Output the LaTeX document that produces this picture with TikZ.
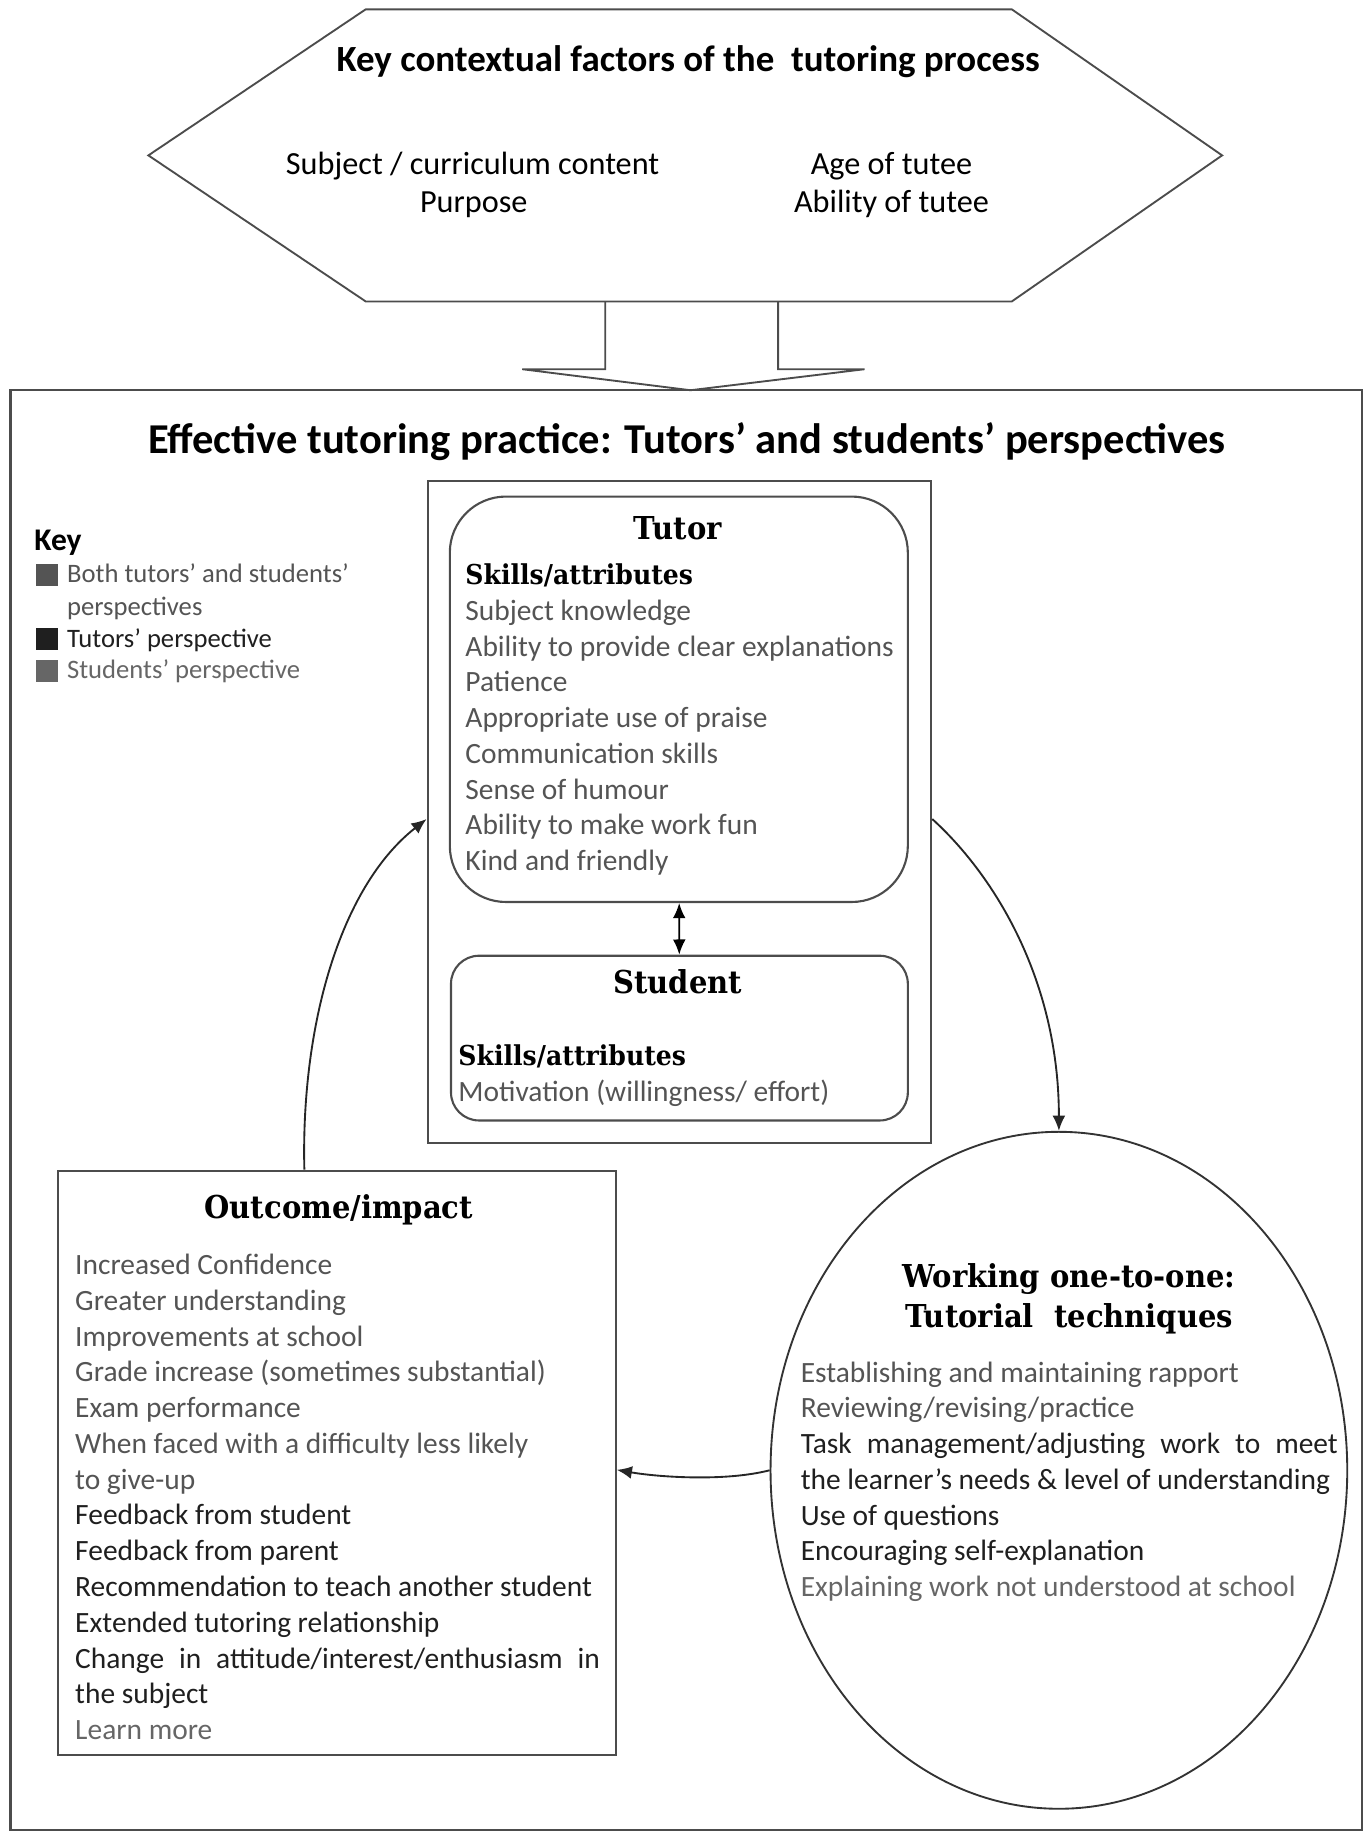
\documentclass[tikz,border=0pt]{standalone}
\usepackage{fontspec}
\newfontfamily\calibri{Carlito}
\newfontfamily\headfont[FakeStretch=0.92]{DejaVu Serif}
\usepackage{xcolor}
\usepackage{tikz}
\usetikzlibrary{arrows.meta,positioning,shapes.geometric}

\definecolor{bothc}{gray}{0.33}
\definecolor{tutc}{gray}{0.12}
\definecolor{studc}{gray}{0.40}
\definecolor{linec}{gray}{0.30}

\newcommand{\bothp}[1]{\textcolor{bothc}{#1}}
\newcommand{\tutp}[1]{\textcolor{tutc}{#1}}
\newcommand{\studp}[1]{\textcolor{studc}{#1}}

\begin{document}
\begin{tikzpicture}[x=0.5pt, y=-0.5pt, >={Latex[length=6.5pt,width=5.5pt]},
    panel/.style={draw=linec, line width=0.9pt, inner sep=0pt},
    ctx/.style={font=\calibri\fontsize{13.8}{16.5}\selectfont, anchor=base},
    head/.style={font=\headfont\bfseries\fontsize{13.5}{17.5}\selectfont, anchor=base},
    skills/.style={font=\headfont\bfseries\fontsize{11.7}{14}\selectfont, anchor=base west, inner sep=0pt},
    items/.style={font=\calibri\fontsize{12.6}{15.3}\selectfont, anchor=north west, inner sep=0pt, align=left},
    keytxt/.style={font=\calibri\fontsize{11.4}{13.8}\selectfont, anchor=base west, inner sep=0pt},
    keysq/.style={minimum size=9.5pt, inner sep=0pt},
    flow/.style={->, line width=0.8pt, draw=black!85}]
  \useasboundingbox (0,0) rectangle (1171,1568);

  % contextual factors
  \draw[draw=linec, line width=0.8pt] (127,133) -- (313,8) -- (866,8) -- (1046,133) -- (866,258) -- (313,258) -- cycle;
  \node[ctx, font=\calibri\bfseries\fontsize{15.8}{19}\selectfont] (ctxtitle) at (589,61) {Key contextual factors of the\ \ tutoring process};
  \node[ctx] (subj) at (404.5,149.3) {Subject / curriculum content};
  \node[ctx] (purp) at (405.5,182.3) {Purpose};
  \node[ctx] (age) at (763,149.3) {Age of tutee};
  \node[ctx] (abil) at (763,182.3) {Ability of tutee};
  \draw[draw=linec, line width=0.8pt] (518,258) -- (518,316) -- (447,316) -- (591,334) -- (740,316) -- (666,316) -- (666,258);

  % practice frame
  \node[panel, minimum width=578.5pt, minimum height=616pt] (frame) at (587.5,950) {};
  \node[font=\calibri\bfseries\fontsize{18.2}{22}\selectfont, anchor=base] (title) at (588,388) {Effective tutoring practice: Tutors’ and students’ perspectives};

  % key
  \node[font=\calibri\bfseries\fontsize{13.5}{16}\selectfont, anchor=base west, inner sep=0pt] (key) at (29,471) {Key};
  \node[keysq, fill=bothc] (sqboth) at (40,492) {};
  \node[keysq, fill=tutc] (sqtut) at (40,547) {};
  \node[keysq, fill=studc] (sqstud) at (40,574) {};
  \node[keytxt, text=bothc] (kboth) at (57,498.8) {Both tutors’ and students’};
  \node[keytxt, text=bothc] (kboth2) at (57,526.8) {perspectives};
  \node[keytxt, text=tutc] (ktut) at (57,553.8) {Tutors’ perspective};
  \node[keytxt, text=studc] (kstud) at (57,580.8) {Students’ perspective};

  % tutor and student
  \node[panel, minimum width=215.5pt, minimum height=283pt] (pair) at (581.5,695) {};
  \node[panel, rounded corners=24pt, minimum width=196pt, minimum height=173.5pt] (tutor) at (581,598.5) {};
  \node[panel, rounded corners=12pt, minimum width=195.5pt, minimum height=70.5pt] (student) at (581.5,888.5) {};
  \node[head] (tutorhd) at (580,462) {Tutor};
  \node[skills] (tutsk) at (398,500) {Skills/attributes};
  \node[items, text=bothc] (tutlist) at (398,509.2) {\strut Subject knowledge\\Ability to provide clear explanations\\Patience\\Appropriate use of praise\\Communication skills\\Sense of humour\\Ability to make work fun\\Kind and friendly};
  \draw[<->, line width=0.8pt] (tutor) -- (student);
  \node[head] (studhd) at (580,850) {Student};
  \node[skills] (studsk) at (392,912) {Skills/attributes};
  \node[items, anchor=base west, text=bothc] (studlist) at (392,942.6) {Motivation (willingness/ effort)};

  % outcome
  \node[panel, minimum width=238.5pt, minimum height=250pt] (outcome) at (288.5,1252) {};
  \node[head] (outhd) at (290,1043) {Outcome/impact};
  \node[items] (outlist) at (64,1069.2) {\strut\bothp{Increased Confidence}\\
    \bothp{Greater understanding}\\
    \bothp{Improvements at school}\\
    \bothp{Grade increase (sometimes substantial)}\\
    \bothp{Exam performance}\\
    \bothp{When faced with a difficulty less likely}\\
    \bothp{to give-up}\\
    \tutp{Feedback from student}\\
    \tutp{Feedback from parent}\\
    \tutp{Recommendation to teach another student}\\
    \tutp{Extended tutoring relationship}\\
    \tutp{\makebox[224.5pt][s]{Change in attitude/interest/enthusiasm in}}\\
    \tutp{the subject}\\
    \studp{Learn more}};

  % working one-to-one
  \node[draw=black!80, line width=0.8pt, ellipse, minimum width=246.8pt, minimum height=289.7pt, inner sep=0pt] (work) at (906.3,1258.4) {};
  \node[head, anchor=north, align=center] (workhd) at (915,1070) {\strut Working one-to-one:\\Tutorial\ \ techniques};
  \node[items] (worklist) at (685,1161.2) {\strut\bothp{Establishing and maintaining rapport}\\
    \bothp{Reviewing/revising/practice}\\
    \tutp{\makebox[229.8pt][s]{Task management/adjusting work to meet}}\\
    \tutp{the learner’s needs \& level of understanding}\\
    \tutp{Use of questions}\\
    \tutp{Encouraging self-explanation}\\
    \studp{Explaining work not understood at school}};

  % connectors
  \draw[flow] ([yshift=-3pt]pair.east) .. controls +(54,49) and +(0,-128) .. (work.north);
  \draw[flow] (work.west) .. controls +(-39,10) and +(34,6) .. ([yshift=-3pt]outcome.east);
  \draw[flow] ([xshift=-14pt]outcome.north) .. controls +(-3,-121) and +(-75,59) .. ([yshift=-3pt]pair.west);
\end{tikzpicture}
\end{document}
